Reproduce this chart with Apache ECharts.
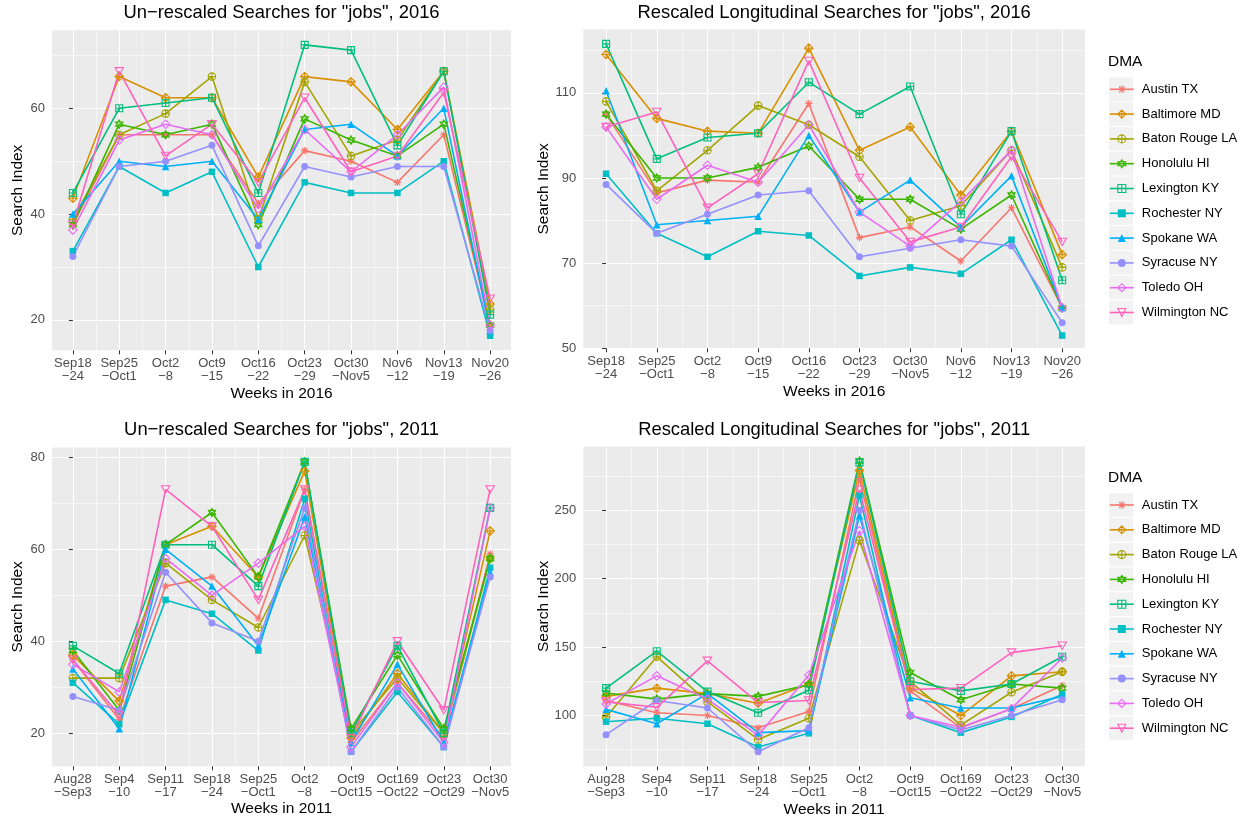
<!DOCTYPE html>
<html>
<head>
<meta charset="UTF-8">
<title>Searches for "jobs"</title>
<script src="https://cdn.jsdelivr.net/npm/echarts@6/dist/echarts.min.js"></script>
<style>
html, body { margin: 0; background: #fff; }
#container { width: 1244px; height: 820px; }
</style>
</head>
<body>
<div id="container"></div>
<script type="text/javascript">
// DMAs, one row per DMA in every data table below
var dmaNames = ['Austin TX', 'Baltimore MD', 'Baton Rouge LA', 'Honolulu HI', 'Lexington KY',
    'Rochester NY', 'Spokane WA', 'Syracuse NY', 'Toledo OH', 'Wilmington NC'];
var dmaColors = ['#F8766D', '#D89000', '#A3A500', '#39B600', '#00BF7D',
    '#00BFC4', '#00B0F6', '#9590FF', '#E76BF3', '#FF62BC'];

var weeks2016 = ['Sep18\n\u221224', 'Sep25\n\u2212Oct1', 'Oct2\n\u22128', 'Oct9\n\u221215', 'Oct16\n\u221222',
    'Oct23\n\u221229', 'Oct30\n\u2212Nov5', 'Nov6\n\u221212', 'Nov13\n\u221219', 'Nov20\n\u221226'];
var weeks2011 = ['Aug28\n\u2212Sep3', 'Sep4\n\u221210', 'Sep11\n\u221217', 'Sep18\n\u221224', 'Sep25\n\u2212Oct1',
    'Oct2\n\u22128', 'Oct9\n\u2212Oct15', 'Oct169\n\u2212Oct22', 'Oct23\n\u2212Oct29', 'Oct30\n\u2212Nov5'];

// un-rescaled 2016
var raw2016 = [
    [38, 55, 55, 55, 42, 52, 50, 46, 55, 19],
    [43, 66, 62, 62, 47, 66, 65, 56, 67, 23],
    [39, 55, 59, 66, 39, 65, 51, 54, 67, 22],
    [38, 57, 55, 57, 38, 58, 54, 51, 57, 19],
    [44, 60, 61, 62, 44, 72, 71, 53, 67, 21],
    [33, 49, 44, 48, 30, 46, 44, 44, 50, 17],
    [40, 50, 49, 50, 39, 56, 57, 51, 60, 18],
    [32, 49, 50, 53, 34, 49, 47, 49, 49, 18],
    [37, 54, 57, 55, 41, 56, 48, 55, 64, 19],
    [38, 67, 51, 57, 46, 62, 48, 51, 63, 24]
];
// rescaled 2016
var res2016 = [
    [105, 86.5, 89.5, 89, 107.5, 76, 78.5, 70.5, 83, 59.5],
    [119, 104, 101, 100.5, 120.5, 96.5, 102, 86, 101, 72],
    [108, 87, 96.5, 107, 102.5, 95, 80, 83.5, 96.5, 69],
    [105, 90, 90, 92.5, 97.5, 85, 85, 78, 86, 59.5],
    [121.5, 94.5, 99.5, 100.5, 112.5, 105, 111.5, 81.5, 101, 66],
    [91, 77, 71.5, 77.5, 76.5, 67, 69, 67.5, 75.5, 53],
    [110.5, 79, 80, 81, 100, 82, 89.5, 78.5, 90.5, 59.5],
    [88.5, 77, 81.5, 86, 87, 71.5, 73.5, 75.5, 74, 56],
    [102, 85, 93, 89, 102.5, 82, 74, 84.5, 96.5, 59.5],
    [102, 105.5, 83, 91, 117.5, 90, 75, 78.5, 95, 75]
];
// un-rescaled 2011
var raw2011 = [
    [36, 23, 52, 54, 45, 73, 18, 31, 19, 59],
    [37, 27, 61, 65, 54, 77, 19, 33, 20, 64],
    [32, 32, 57, 49, 43, 63, 20, 32, 20, 58],
    [38, 25, 61, 68, 54, 79, 21, 37, 21, 58],
    [39, 33, 61, 61, 52, 79, 20, 39, 20, 69],
    [31, 22, 49, 46, 38, 71, 16, 29, 17, 56],
    [34, 21, 60, 52, 39, 67, 18, 35, 18, 55],
    [28, 25, 55, 44, 40, 69, 16, 30, 17, 54],
    [35, 29, 58, 50, 57, 65, 17, 31, 18, 69],
    [36, 24, 73, 65, 49, 73, 19, 40, 25, 73]
];
// rescaled 2011
var res2011 = [
    [111, 102, 100, 91, 103, 273, 118, 91, 105, 122],
    [114, 120, 116, 109, 123, 279, 120, 100, 129, 132],
    [99, 143, 110, 82.5, 98, 228, 125, 93, 117, 132],
    [116.5, 112, 116, 114, 122.5, 286, 131.5, 111.5, 123, 120],
    [120, 147, 117.5, 102, 118.5, 285, 125, 118, 123, 143],
    [95.5, 98, 94, 77, 87, 261, 100, 87.5, 99, 115.5],
    [104.5, 94, 116, 87.5, 89, 246, 113, 105.5, 105.5, 114],
    [86, 111, 105.5, 73.5, 91, 250, 100, 89.5, 100, 111.5],
    [108.5, 129, 112, 85.5, 129.5, 235, 100, 91.5, 105, 142],
    [110, 106, 140, 109.5, 111, 265, 119, 120, 146, 151]
];

var yTicks2016raw = [20, 40, 60];
var yTicks2016res = [50, 70, 90, 110];
var yTicks2011raw = [20, 40, 60, 80];
var yTicks2011res = [100, 150, 200, 250];

var FONT = '"Liberation Sans", Arial, Helvetica, sans-serif';

// ggplot point shapes
var S_ASTER = 'path://M5,0L5,10M0,5L10,5M1.5,1.5L8.5,8.5M1.5,8.5L8.5,1.5';
var S_DIAPLUS = 'path://M5,0L10,5L5,10L0,5ZM5,0L5,10M0,5L10,5';
var S_CIRPLUS = 'path://M0,5A5,5,0,1,1,10,5A5,5,0,1,1,0,5ZM5,0L5,10M0,5L10,5';
var S_STAR = 'path://M5,0L9.33,7.5L0.67,7.5ZM5,10L0.67,2.5L9.33,2.5Z';
var S_SQPLUS = 'path://M0,0L10,0L10,10L0,10ZM5,0L5,10M0,5L10,5';
var S_TRIDOWN = 'path://M0,0L10,0L5,8.66Z';
var dmaShapes = [
    {symbol: S_ASTER, size: 7.5, filled: false},
    {symbol: S_DIAPLUS, size: 8.5, filled: false},
    {symbol: S_CIRPLUS, size: 7.5, filled: false},
    {symbol: S_STAR, size: 8.5, filled: false},
    {symbol: S_SQPLUS, size: 7, filled: false},
    {symbol: 'rect', size: 6.5, filled: true},
    {symbol: 'triangle', size: 7.5, filled: true},
    {symbol: 'circle', size: 7, filled: true},
    {symbol: 'diamond', size: 8.5, filled: false},
    {symbol: S_TRIDOWN, size: 8.5, filled: false}
];

function markStyle(di) {
    return dmaShapes[di].filled ? {color: dmaColors[di], borderWidth: 0}
        : {color: 'none', borderColor: dmaColors[di], borderWidth: 1.1};
}

var panels = [
    {title: 'Un\u2212rescaled Searches for "jobs", 2016', rows: raw2016, cats: weeks2016, xName: 'Weeks in 2016',
        left: 52, top: 30.3, width: 459, height: 320, yMin: 14.25, yMax: 74.75, ySplit: 3, yTicks: yTicks2016raw, yGap: 26},
    {title: 'Rescaled Longitudinal Searches for "jobs", 2016', rows: res2016, cats: weeks2016, xName: 'Weeks in 2016',
        left: 583.3, top: 29.4, width: 501.7, height: 318.9, yMin: 50, yMax: 124.9, yInterval: 20, yTicks: yTicks2016res, yGap: 32},
    {title: 'Un\u2212rescaled Searches for "jobs", 2011', rows: raw2011, cats: weeks2011, xName: 'Weeks in 2011',
        left: 52, top: 447.4, width: 459, height: 318.8, yMin: 12.85, yMax: 82.15, ySplit: 3, yTicks: yTicks2011raw, yGap: 26},
    {title: 'Rescaled Longitudinal Searches for "jobs", 2011', rows: res2011, cats: weeks2011, xName: 'Weeks in 2011',
        left: 583.3, top: 446.5, width: 501.7, height: 319.8, yMin: 62.9, yMax: 296.6, ySplit: 4, yTicks: yTicks2011res, yGap: 32}
];

var xIdx = [0, 1, 2, 3, 4, 5, 6, 7, 8, 9];

var grids = [], xAxes = [], yAxes = [], titles = [], series = [];
panels.forEach(function (p, pi) {
    grids.push({
        left: p.left, top: p.top, width: p.width, height: p.height,
        show: true, backgroundColor: '#EBEBEB', borderWidth: 0,
        containLabel: false, outerBoundsMode: 'none'
    });
    titles.push({
        text: p.title, left: p.left + p.width / 2, top: p.top < 100 ? 4 : 421,
        textAlign: 'center', padding: 0,
        textStyle: {fontSize: 18.4, fontWeight: 'normal', color: '#000', fontFamily: FONT}
    });
    xAxes.push({
        type: 'value', gridIndex: pi, min: -0.45, max: 9.45, splitNumber: 9,
        name: p.xName, nameLocation: 'middle', nameGap: 35, nameMoveOverlap: false,
        nameTextStyle: {fontSize: 15.5, color: '#000', fontFamily: FONT},
        axisLine: {show: false},
        axisTick: {show: true, length: 4, customValues: xIdx, lineStyle: {color: '#333', width: 1}},
        axisLabel: {
            customValues: xIdx, margin: 6, fontSize: 13, lineHeight: 13.5, color: '#4D4D4D', fontFamily: FONT,
            formatter: (function (cats) { return function (v) { return cats[Math.round(v)] || ''; }; })(p.cats)
        },
        splitLine: {show: true, lineStyle: {color: '#fff', width: 1.1}},
        minorTick: {show: false, splitNumber: 2},
        minorSplitLine: {show: true, lineStyle: {color: '#fff', width: 0.55}}
    });
    var ya = {
        type: 'value', gridIndex: pi, min: p.yMin, max: p.yMax,
        name: 'Search Index', nameLocation: 'middle', nameGap: p.yGap, nameMoveOverlap: false,
        nameTextStyle: {fontSize: 15.5, color: '#000', fontFamily: FONT},
        axisLine: {show: false},
        axisTick: {show: true, length: 4, customValues: p.yTicks, lineStyle: {color: '#333', width: 1}},
        axisLabel: {customValues: p.yTicks, margin: 7, fontSize: 13, color: '#4D4D4D', fontFamily: FONT},
        splitLine: {show: true, lineStyle: {color: '#fff', width: 1.1}},
        minorTick: {show: false, splitNumber: 2},
        minorSplitLine: {show: true, lineStyle: {color: '#fff', width: 0.55}}
    };
    if (p.yInterval) ya.interval = p.yInterval; else ya.splitNumber = p.ySplit;
    yAxes.push(ya);

    dmaNames.forEach(function (name, di) {
        var sh = dmaShapes[di];
        series.push({
            name: name, type: 'line', xAxisIndex: pi, yAxisIndex: pi,
            data: p.rows[di].map(function (v, i) { return [i, v]; }),
            symbol: sh.symbol, symbolSize: sh.size, symbolKeepAspect: true, showAllSymbol: true,
            lineStyle: {color: dmaColors[di], width: 1.6},
            itemStyle: markStyle(di),
            emphasis: {disabled: true},
            animation: false
        });
    });
});

// legend title and keys, one per row of panels
var legendTops = [89.3, 505];
var keyStep = 24.8;
var legendData = dmaNames.map(function (n, di) {
    return {name: n, itemStyle: markStyle(di), lineStyle: {color: dmaColors[di], width: 1.6}};
});
var legends = [], keyRects = [];
legendTops.forEach(function (t) {
    titles.push({
        text: 'DMA', left: 1108, top: t - 35.5, padding: 0,
        textStyle: {fontSize: 15.5, fontWeight: 'normal', color: '#000', fontFamily: FONT}
    });
    legends.push({
        data: legendData, orient: 'vertical', left: 1109, top: t - 6.5, padding: 0,
        itemWidth: 24, itemHeight: 10, itemGap: keyStep - 13, selectedMode: false,
        textStyle: {fontSize: 13, lineHeight: 13, color: '#000', fontFamily: FONT, padding: [0, 0, 0, 3]}
    });
    dmaNames.forEach(function (n, i) {
        keyRects.push({
            type: 'rect', silent: true, z: -1,
            shape: {x: 1108.5, y: t - keyStep / 2 + i * keyStep, width: 25, height: keyStep},
            style: {fill: '#F2F2F2', stroke: '#fff', lineWidth: 1}
        });
    });
});

var myChart = echarts.init(document.getElementById('container'), null, {renderer: 'canvas'});
var option = {
    animation: false,
    backgroundColor: '#fff',
    textStyle: {fontFamily: FONT},
    title: titles,
    legend: legends,
    grid: grids,
    xAxis: xAxes,
    yAxis: yAxes,
    graphic: keyRects,
    series: series
};
myChart.setOption(option);
</script>
</body>
</html>
